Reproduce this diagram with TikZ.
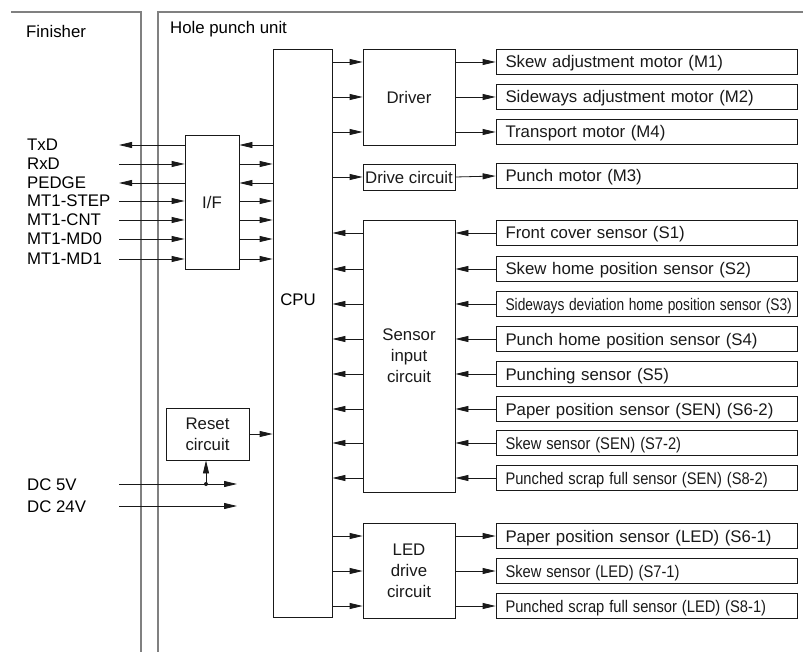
\documentclass[tikz,border=0pt]{standalone}
\usepackage{fontspec}
\setmainfont{Liberation Sans}
\usepackage{graphicx}
\usetikzlibrary{arrows.meta,positioning}
\tikzset{>={Triangle[length=13pt,width=6pt]}}
\colorlet{background}{white}
\colorlet{penColor}{black!90}
\colorlet{frameColor}{black!50}
\newcommand{\slim}[2][0.875]{\scalebox{#1}[1]{#2}}
\tikzset{
  blk/.style={draw,penColor,line width=0.8pt,inner sep=0pt,align=center},
  part/.style={blk,minimum width=301pt,minimum height=25pt,text width=282pt,inner xsep=9.5pt,align=left,text height=12pt,text depth=0pt},
  sig/.style={->,penColor,line width=0.8pt},
  lbl/.style={anchor=west,inner sep=0pt,text height=12pt,text depth=0pt}
}

\begin{document}
\begin{tikzpicture}[x=1pt,y=-1pt,font=\fontsize{16.8}{21}\selectfont]
\useasboundingbox (0,0) rectangle (803,652);
% frames
\draw[frameColor, line width=1.4pt] (11,12) -- (141,12) -- (141,652);
\draw[frameColor, line width=1.4pt] (158,652) -- (158,12) -- (803,12);
\node[lbl] (finisher) at (26,32) {Finisher};
\node[lbl] (hpu) at (170,28) {Hole punch unit};

% blocks
\node[blk, minimum width=59pt, minimum height=568pt] (cpu) at (302.5,333) {};
\node (cpulbl) at (298,300) {CPU};
\node[blk, minimum width=92pt, minimum height=96pt] (drv) at (409,97) {Driver};
\node[blk, minimum width=92pt, minimum height=26pt] (dc) at (409,177) {Drive circuit};
\node[blk, minimum width=92pt, minimum height=272pt] (sic) at (409,356) {Sensor\\input\\circuit};
\node[blk, minimum width=92pt, minimum height=95pt] (led) at (409,570.5) {LED\\drive\\circuit};
\node[blk, minimum width=54pt, minimum height=134pt] (if) at (212,202) {I/F};
\node[blk, minimum width=83pt, minimum height=52pt] (reset) at (207.5,434) {Reset\\circuit};

% motors
\node[part] (m1) at (646.5,62) {Skew adjustment motor (M1)};
\node[part] (m2) at (646.5,97) {Sideways adjustment motor (M2)};
\node[part] (m4) at (646.5,132) {Transport motor (M4)};
\node[part] (m3) at (646.5,176) {Punch motor (M3)};

% sensors
\node[part] (s1) at (646.5,233) {Front cover sensor (S1)};
\node[part] (s2) at (646.5,269) {Skew home position sensor (S2)};
\node[part] (s3) at (646.5,304) {\slim[0.82]{Sideways deviation home position sensor (S3)}};
\node[part] (s4) at (646.5,339) {Punch home position sensor (S4)};
\node[part] (s5) at (646.5,374) {Punching sensor (S5)};
\node[part] (s62) at (646.5,409) {Paper position sensor (SEN) (S6-2)};
\node[part] (s72) at (646.5,443) {\slim{Skew sensor (SEN) (S7-2)}};
\node[part] (s82) at (646.5,478) {\slim{Punched scrap full sensor (SEN) (S8-2)}};

% LEDs
\node[part] (s61) at (646.5,536) {Paper position sensor (LED) (S6-1)};
\node[part] (s71) at (646.5,571) {\slim{Skew sensor (LED) (S7-1)}};
\node[part] (s81) at (646.5,606) {\slim{Punched scrap full sensor (LED) (S8-1)}};

% driver outputs
\draw[sig] (cpu.east |- m1) -- (drv.west |- m1);
\draw[sig] (cpu.east |- m2) -- (drv.west |- m2);
\draw[sig] (cpu.east |- m4) -- (drv.west |- m4);
\draw[sig] (drv.east |- m1) -- (m1.west);
\draw[sig] (drv.east |- m2) -- (m2.west);
\draw[sig] (drv.east |- m4) -- (m4.west);
\draw[sig] (cpu.east |- dc) -- (dc.west);
\draw[sig] (dc.east) -- (m3.west);

% sensor inputs
\draw[sig] (s1.west) -- (sic.east |- s1);
\draw[sig] (s2.west) -- (sic.east |- s2);
\draw[sig] (s3.west) -- (sic.east |- s3);
\draw[sig] (s4.west) -- (sic.east |- s4);
\draw[sig] (s5.west) -- (sic.east |- s5);
\draw[sig] (s62.west) -- (sic.east |- s62);
\draw[sig] (s72.west) -- (sic.east |- s72);
\draw[sig] (s82.west) -- (sic.east |- s82);
\draw[sig] (sic.west |- s1) -- (cpu.east |- s1);
\draw[sig] (sic.west |- s2) -- (cpu.east |- s2);
\draw[sig] (sic.west |- s3) -- (cpu.east |- s3);
\draw[sig] (sic.west |- s4) -- (cpu.east |- s4);
\draw[sig] (sic.west |- s5) -- (cpu.east |- s5);
\draw[sig] (sic.west |- s62) -- (cpu.east |- s62);
\draw[sig] (sic.west |- s72) -- (cpu.east |- s72);
\draw[sig] (sic.west |- s82) -- (cpu.east |- s82);

% LED outputs
\draw[sig] (cpu.east |- s61) -- (led.west |- s61);
\draw[sig] (cpu.east |- s71) -- (led.west |- s71);
\draw[sig] (cpu.east |- s81) -- (led.west |- s81);
\draw[sig] (led.east |- s61) -- (s61.west);
\draw[sig] (led.east |- s71) -- (s71.west);
\draw[sig] (led.east |- s81) -- (s81.west);

% finisher signals
\node[lbl] (txdlbl) at (27,145) {TxD};
\node[lbl] (rxdlbl) at (27,164) {RxD};
\node[lbl] (pedgelbl) at (27,183) {PEDGE};
\node[lbl] (steplbl) at (27,201) {MT1-STEP};
\node[lbl] (cntlbl) at (27,220) {MT1-CNT};
\node[lbl] (md0lbl) at (27,239) {MT1-MD0};
\node[lbl] (md1lbl) at (27,259) {MT1-MD1};
\coordinate (txd) at (119,145);
\coordinate (rxd) at (119,164);
\coordinate (pedge) at (119,183);
\coordinate (step) at (119,201);
\coordinate (cnt) at (119,220);
\coordinate (md0) at (119,239);
\coordinate (md1) at (119,259);
\draw[sig] (if.west |- txd) -- (txd);
\draw[sig] (rxd) -- (if.west |- rxd);
\draw[sig] (if.west |- pedge) -- (pedge);
\draw[sig] (step) -- (if.west |- step);
\draw[sig] (cnt) -- (if.west |- cnt);
\draw[sig] (md0) -- (if.west |- md0);
\draw[sig] (md1) -- (if.west |- md1);
\draw[sig] (cpu.west |- txd) -- (if.east |- txd);
\draw[sig] (if.east |- rxd) -- (cpu.west |- rxd);
\draw[sig] (cpu.west |- pedge) -- (if.east |- pedge);
\draw[sig] (if.east |- step) -- (cpu.west |- step);
\draw[sig] (if.east |- cnt) -- (cpu.west |- cnt);
\draw[sig] (if.east |- md0) -- (cpu.west |- md0);
\draw[sig] (if.east |- md1) -- (cpu.west |- md1);

% power
\draw[sig] (reset.east) -- (cpu.west |- reset.east);
\node[lbl] (dc5lbl) at (27,484) {DC 5V};
\node[lbl] (dc24lbl) at (27,506) {DC 24V};
\coordinate (dc5a) at (119,484);
\coordinate (dc5b) at (237,484);
\coordinate (dc24a) at (119,506);
\coordinate (dc24b) at (237,506);
\coordinate (tap) at (206,484);
\draw[sig] (dc5a) -- (dc5b);
\draw[sig] (dc24a) -- (dc24b);
\fill[penColor] (tap) circle [radius=2pt];
\draw[sig] (tap) -- (tap |- reset.south);
\end{tikzpicture}
\end{document}
